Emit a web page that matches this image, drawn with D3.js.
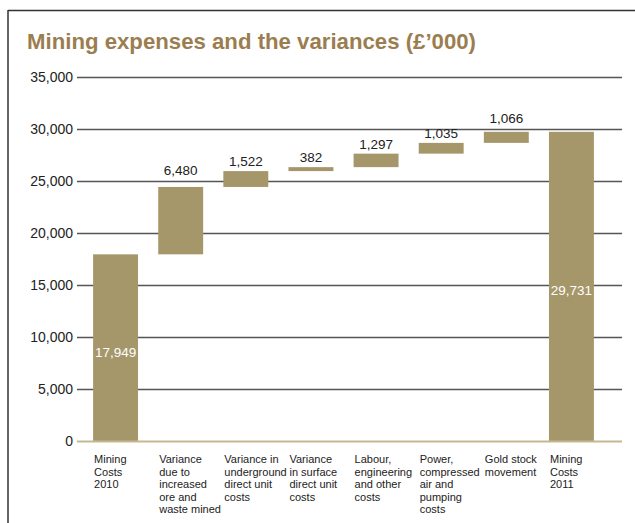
<!DOCTYPE html>
<html>

<head>
  <title>Mining expenses waterfall</title>
  <script src='https://d3js.org/d3.v7.min.js'></script>
  <style>
    body { margin: 0; background: white; }
    text { font-family: 'Liberation Sans', Arial, Helvetica, sans-serif; }
    .grid line { stroke: #555; stroke-width: 1.5; }
    .grid .domain { stroke: none; }
  </style>
</head>

<body>
  <svg id="canvas" height='523' width='635'></svg>

  <script>
    // chart data
    const categories = [
      ['Mining', 'Costs', '2010'],
      ['Variance', 'due to', 'increased', 'ore and', 'waste mined'],
      ['Variance in', 'underground', 'direct unit', 'costs'],
      ['Variance', 'in surface', 'direct unit', 'costs'],
      ['Labour,', 'engineering', 'and other', 'costs'],
      ['Power,', 'compressed', 'air and', 'pumping', 'costs'],
      ['Gold stock', 'movement'],
      ['Mining', 'Costs', '2011']
    ];
    const values = [17949, 6480, 1522, 382, 1297, 1035, 1066, 29731];
    const isTotal = [true, false, false, false, false, false, false, true];
    const yTicks = [0, 5000, 10000, 15000, 20000, 25000, 30000, 35000];

    const svg = d3.select('svg#canvas');
    const barColor = '#a6976b';

    // build waterfall start/end for each bar
    let running = 0;
    const bars = values.map((v, i) => {
      let start, end;
      if (isTotal[i]) {
        start = 0; end = v; running = v;
      } else {
        start = running; end = running + v; running = end;
      }
      return { i: i, value: v, start: start, end: end, total: isTotal[i], lines: categories[i] };
    });

    /** Frame and title */
    svg.append('line')
      .attr('x1', 8).attr('y1', 10.5).attr('x2', 635).attr('y2', 10.5)
      .attr('stroke', '#333').attr('stroke-width', 1.5);
    svg.append('line')
      .attr('x1', 8).attr('y1', 10).attr('x2', 8).attr('y2', 523)
      .attr('stroke', '#333').attr('stroke-width', 1.5);

    svg.append('text')
      .attr('x', 27)
      .attr('y', 49)
      .attr('textLength', 449)
      .attr('lengthAdjust', 'spacingAndGlyphs')
      .text('Mining expenses and the variances (£\u2019000)')
      .style('font-size', '22px')
      .style('font-weight', 700)
      .style('fill', '#9b7e50');

    /** Scales */
    const yScale = d3.scaleLinear().domain([0, 35000]).range([441, 77]);
    const xScale = d3.scaleBand()
      .domain(d3.range(categories.length))
      .range([83, 604])
      .paddingInner(0.31)
      .paddingOuter(0.155);

    // gridlines (drawn from the right edge back to the axis)
    svg.append('g')
      .attr('class', 'grid')
      .attr('transform', 'translate(622,0)')
      .call(d3.axisRight(yScale).tickValues(yTicks.filter(d => d > 0)).tickSize(-545).tickFormat(''));

    // tick labels
    svg.append('g')
      .selectAll('text')
      .data(yTicks)
      .join('text')
      .attr('x', 73)
      .attr('y', d => yScale(d))
      .attr('dy', '0.36em')
      .attr('text-anchor', 'end')
      .text(d => d3.format(',')(d))
      .style('font-size', '14px')
      .style('fill', '#222');

    /** Bars */
    svg.append('g')
      .selectAll('rect')
      .data(bars)
      .join('rect')
      .attr('x', d => xScale(d.i))
      .attr('y', d => yScale(d.end))
      .attr('width', xScale.bandwidth())
      .attr('height', d => yScale(d.start) - yScale(d.end))
      .attr('fill', barColor);

    // baseline
    svg.append('line')
      .attr('x1', 77).attr('x2', 622)
      .attr('y1', yScale(0) + 0.5).attr('y2', yScale(0) + 0.5)
      .attr('stroke', '#c4b792').attr('stroke-width', 2);

    // label position: just above the bar, lifted over a gridline it would sit on
    function labelY(d) {
      if (d.total) return (yScale(d.start) + yScale(d.end)) / 2 + 9;
      let y = yScale(d.end) - 5;
      yTicks.forEach(t => {
        const gy = yScale(t);
        if (gy >= y - 4 && gy <= y + 3) y = gy - 6;
      });
      return y;
    }

    // value labels
    svg.append('g')
      .selectAll('text')
      .data(bars)
      .join('text')
      .attr('x', d => xScale(d.i) + xScale.bandwidth() / 2)
      .attr('y', labelY)
      .attr('text-anchor', 'middle')
      .text(d => d3.format(',')(d.value))
      .style('font-size', '13.5px')
      .style('fill', d => d.total ? 'white' : '#222');

    // category labels
    const catGroups = svg.append('g')
      .selectAll('text')
      .data(bars)
      .join('text')
      .attr('x', d => xScale(d.i) + 1)
      .attr('y', 463)
      .style('font-size', '11px')
      .style('fill', '#222');
    catGroups.selectAll('tspan')
      .data(d => d.lines.map(l => ({ line: l, x: xScale(d.i) + 1 })))
      .join('tspan')
      .attr('x', t => t.x)
      .attr('dy', (t, j) => j === 0 ? 0 : 12.5)
      .text(t => t.line);
  </script>

</body>

</html>
